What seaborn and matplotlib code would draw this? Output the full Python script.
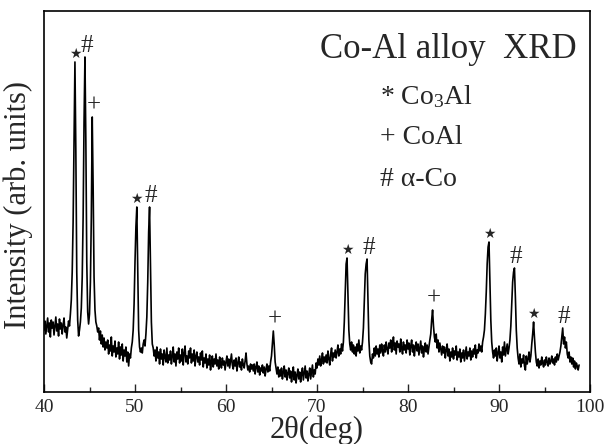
import numpy as np
import seaborn as sns
import matplotlib.pyplot as plt
from matplotlib.ticker import MultipleLocator

# scan grid: 40.0 .. 98.8 deg, 0.1 deg step
scan_start, scan_stop, scan_points = 40.0, 98.8, 589

# intensity (arb. units), one row per degree
intensity = [
    62, 71, 58, 66, 74, 60, 69, 55, 72, 64,        # 40
    70, 57, 66, 75, 61, 68, 56, 73, 63, 69,        # 41
    58, 67, 74, 60, 65, 54, 63, 71, 66, 78,        # 42
    92, 120, 170, 250, 330, 240, 120, 72, 56, 62,  # 43
    70, 84, 115, 175, 270, 335, 250, 130, 80, 68,  # 44
    78, 110, 175, 275, 205, 115, 82, 70, 66, 60,   # 45
    64, 52, 61, 48, 57, 45, 54, 42, 50, 44,        # 46
    52, 38, 47, 41, 55, 36, 46, 40, 51, 35,        # 47
    44, 38, 50, 33, 45, 37, 48, 31, 42, 36,        # 48
    45, 30, 40, 26, 38, 34, 44, 50, 62, 88,        # 49
    130, 165, 185, 120, 62, 45, 40, 44, 39, 48,    # 50
    52, 46, 58, 75, 110, 160, 185, 130, 70, 48,    # 51
    44, 36, 42, 31, 45, 34, 40, 28, 43, 33,        # 52
    38, 27, 42, 35, 30, 44, 29, 37, 32, 41,        # 53
    28, 36, 45, 30, 38, 26, 40, 33, 44, 29,        # 54
    37, 31, 43, 27, 39, 46, 30, 36, 28, 41,        # 55
    34, 44, 29, 38, 31, 42, 26, 36, 40, 30,        # 56
    35, 27, 39, 32, 41, 25, 34, 29, 38, 24,        # 57
    33, 27, 37, 22, 31, 36, 25, 33, 28, 38,        # 58
    26, 32, 23, 35, 29, 24, 34, 27, 31, 22,        # 59
    30, 36, 26, 33, 24, 31, 38, 27, 23, 32,        # 60
    26, 34, 21, 29, 35, 25, 30, 22, 33, 27,        # 61
    24, 31, 39, 28, 22, 26, 20, 28, 23, 27,        # 62
    21, 28, 18, 25, 30, 20, 26, 17, 24, 21,        # 63
    27, 19, 25, 16, 23, 28, 20, 26, 21, 30,        # 64
    36, 48, 61, 47, 30, 24, 18, 25, 15, 22,        # 65
    16, 24, 13, 20, 26, 15, 22, 12, 19, 24,        # 66
    14, 21, 10, 18, 25, 12, 20, 9, 17, 23,         # 67
    13, 20, 10, 18, 24, 12, 19, 26, 14, 21,        # 68
    11, 18, 24, 13, 20, 27, 15, 22, 18, 29,        # 69
    24, 33, 27, 36, 26, 32, 39, 28, 35, 30,        # 70
    37, 29, 41, 33, 27, 38, 44, 31, 39, 35,        # 71
    42, 34, 40, 47, 36, 43, 38, 48, 41, 50,        # 72
    70, 100, 128, 134, 100, 62, 48, 42, 50, 40,    # 73
    47, 38, 45, 36, 48, 41, 52, 39, 46, 42,        # 74
    50, 64, 90, 118, 128, 133, 90, 52, 36, 30,     # 75
    28, 38, 34, 44, 36, 46, 38, 43, 35, 47,        # 76
    39, 48, 41, 36, 47, 40, 50, 43, 38, 49,        # 77
    44, 52, 40, 47, 55, 42, 49, 38, 51, 45,        # 78
    48, 40, 53, 44, 38, 50, 42, 47, 39, 52,        # 79
    43, 49, 37, 46, 52, 40, 47, 36, 45, 50,        # 80
    41, 48, 37, 44, 51, 39, 46, 35, 43, 49,        # 81
    40, 47, 38, 45, 52, 58, 72, 82, 66, 55,        # 82
    50, 58, 44, 52, 40, 49, 43, 37, 46, 39,        # 83
    45, 34, 42, 48, 36, 43, 31, 40, 35, 44,        # 84
    33, 41, 37, 46, 32, 40, 35, 43, 30, 39,        # 85
    34, 42, 31, 38, 45, 33, 40, 36, 44, 32,        # 86
    41, 35, 43, 38, 47, 34, 42, 39, 48, 41,        # 87
    46, 40, 50, 55, 62, 78, 100, 128, 145, 150,    # 88
    112, 72, 50, 40, 34, 42, 36, 44, 31, 39,       # 89
    46, 34, 40, 30, 45, 37, 50, 36, 42, 48,        # 90
    38, 44, 52, 66, 88, 110, 120, 124, 95, 62,     # 91
    44, 34, 28, 38, 25, 33, 29, 37, 26, 22,        # 92
    36, 28, 33, 40, 30, 36, 48, 58, 70, 54,        # 93
    40, 30, 26, 33, 24, 31, 27, 35, 29, 25,        # 94
    32, 27, 35, 30, 26, 34, 28, 31, 36, 29,        # 95
    33, 27, 35, 30, 38, 32, 36, 40, 46, 55,        # 96
    64, 48, 55, 44, 50, 38, 34, 40, 30, 35,        # 97
    28, 34, 25, 31, 23, 29, 26, 22, 27,            # 98
]

# phase labels over the peaks
peak_pos = [43.4, 44.5, 45.3, 50.2, 51.6, 65.2, 73.3, 75.5, 82.7, 88.9, 91.7, 93.8, 97.0]
peak_mark = ['*', '#', '+', '*', '#', '+', '*', '#', '+', '*', '#', '*', '#']

phase_labels = ['* Co$\\mathregular{_3}$Al', '+ CoAl', '# α-Co']

two_theta = np.linspace(scan_start, scan_stop, scan_points)

sns.set_style('ticks')
plt.rcParams['font.family'] = ['Liberation Serif', 'DejaVu Serif']
plt.rcParams['mathtext.fontset'] = 'stix'

fig = plt.figure(figsize=(6.06, 4.44), dpi=100)
ax = fig.add_axes([44 / 606, 52 / 444, 546 / 606, 381 / 444])

sns.lineplot(x=two_theta, y=intensity, ax=ax, color='black', lw=1.2,
             estimator=None, sort=False)

ax.set_xlim(40, 100)
ax.set_ylim(0, 381)

for p, m in zip(peak_pos, peak_mark):
    y = intensity[int(round((p - scan_start) * 10))]
    if m == '*':
        ax.text(p, y + 4, '★', ha='center', va='baseline',
                fontsize=10, family='DejaVu Sans')
    else:
        ax.text(p + 0.15, y + 5, m, ha='center', va='baseline', fontsize=18)

ax.text(0.976, 0.898, 'Co-Al alloy  XRD', transform=ax.transAxes,
        ha='right', va='center', fontsize=25)
for i, lab in enumerate(phase_labels):
    ax.text(0.615, 0.775 - i * 0.108, lab, transform=ax.transAxes,
            ha='left', va='center', fontsize=20)

ax.xaxis.set_major_locator(MultipleLocator(10))
ax.xaxis.set_minor_locator(MultipleLocator(5))
ax.tick_params(axis='x', which='major', direction='in', length=6, width=1,
               labelsize=14, pad=5)
ax.tick_params(axis='x', which='minor', direction='in', length=3.5, width=1)
ax.set_yticks([])
for s in ax.spines.values():
    s.set_linewidth(1.2)
    s.set_color('black')

ax.set_xlabel('2θ(deg)', fontsize=22, labelpad=0)
ax.set_ylabel('Intensity (arb. units)', fontsize=22)
ax.yaxis.set_label_coords(-0.02, 0.49)

fig.savefig('out.png', dpi=100)
